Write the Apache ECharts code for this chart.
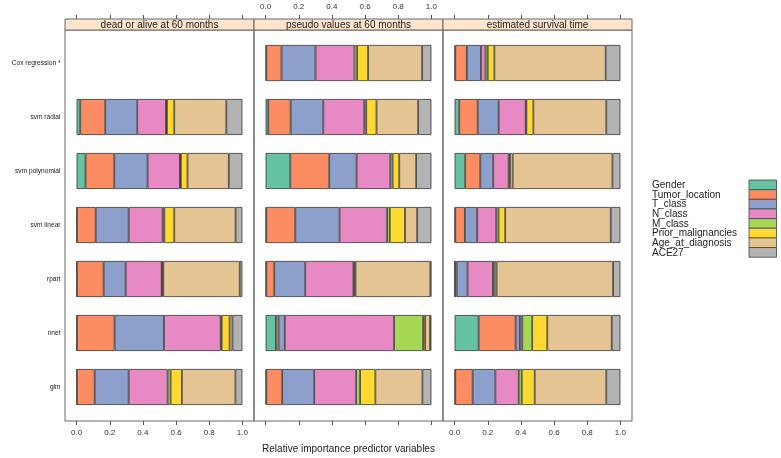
<!DOCTYPE html>
<html>
<head>
<meta charset="utf-8">
<script src="https://cdn.jsdelivr.net/npm/echarts@6/dist/echarts.min.js"></script>
<style>
html,body{margin:0;padding:0;background:#fff;}
#chart{width:781px;height:458px;}
</style>
</head>
<body>
<div id="chart"></div>
<script>
// Categories (top to bottom)
const methods = ['Cox regression *', 'svm radial', 'svm polynomial', 'svm linear', 'rpart', 'nnet', 'glm'];
// Predictor variables (stack order)
const variables = ['Gender', 'Tumor_location', 'T_class', 'N_class', 'M_class', 'Prior_malignancies', 'Age_at_diagnosis', 'ACE27'];
const colors = ['#66C2A5', '#FC8D62', '#8DA0CB', '#E78AC3', '#A6D854', '#FFD92F', '#E5C494', '#B3B3B3'];
const panelTitles = ['dead or alive at 60 months', 'pseudo values at 60 months', 'estimated survival time'];
const tickValues = [0, 0.2, 0.4, 0.6, 0.8, 1.0];

// Relative importance, rows = methods, columns = variables
const deadAlive = [
  [null, null, null, null, null, null, null, null],
  [0.022, 0.151, 0.193, 0.173, 0.006, 0.044, 0.314, 0.097],
  [0.054, 0.173, 0.201, 0.195, 0.006, 0.040, 0.249, 0.082],
  [0.002, 0.113, 0.199, 0.205, 0.010, 0.060, 0.370, 0.041],
  [0.002, 0.161, 0.133, 0.217, 0.004, 0.006, 0.461, 0.016],
  [0.002, 0.227, 0.298, 0.342, 0.006, 0.048, 0.017, 0.060],
  [0.002, 0.107, 0.205, 0.235, 0.018, 0.068, 0.323, 0.042]
];
const pseudo = [
  [0.004, 0.092, 0.205, 0.235, 0.016, 0.066, 0.326, 0.056],
  [0.016, 0.135, 0.197, 0.247, 0.012, 0.062, 0.251, 0.080],
  [0.149, 0.235, 0.165, 0.203, 0.014, 0.040, 0.102, 0.092],
  [0.004, 0.175, 0.267, 0.287, 0.016, 0.092, 0.073, 0.086],
  [0.004, 0.048, 0.187, 0.291, 0.006, 0.006, 0.452, 0.006],
  [0.062, 0.016, 0.038, 0.659, 0.175, 0.012, 0.030, 0.008],
  [0.004, 0.096, 0.193, 0.253, 0.024, 0.092, 0.284, 0.054]
];
const survTime = [
  [0.004, 0.070, 0.085, 0.027, 0.014, 0.040, 0.671, 0.089],
  [0.028, 0.111, 0.127, 0.163, 0.004, 0.042, 0.440, 0.085],
  [0.064, 0.091, 0.078, 0.093, 0.008, 0.016, 0.602, 0.048],
  [0.004, 0.058, 0.074, 0.115, 0.014, 0.040, 0.637, 0.058],
  [0.002, 0.010, 0.066, 0.153, 0.010, 0.012, 0.703, 0.044],
  [0.145, 0.223, 0.026, 0.014, 0.060, 0.091, 0.389, 0.052],
  [0.004, 0.105, 0.137, 0.141, 0.018, 0.078, 0.432, 0.085]
];
const panels = [deadAlive, pseudo, survTime];

// Layout
const FONT = 'Liberation Sans, Arial, Helvetica, sans-serif';
const panelLefts = [65, 254, 443];
const panelW = 189;
const gridTop = 36, gridH = 378;
const frameTop = 30, frameBottom = 421;
const stripTop = 19;
const xMin = -0.07, xMax = 1.07;

const grids = [], xAxes = [], yAxes = [], series = [], graphics = [];
const fmt = v => v.toFixed(1);

panels.forEach((rows, p) => {
  grids.push({left: panelLefts[p], top: gridTop, width: panelW, height: gridH, containLabel: false});
  // bottom axis
  xAxes.push({
    type: 'value', gridIndex: p, position: 'bottom', min: xMin, max: xMax,
    offset: frameBottom - (gridTop + gridH),
    axisLine: {show: false, onZero: false},
    splitLine: {show: false},
    axisTick: {show: true, length: 4, customValues: tickValues, lineStyle: {color: '#555'}},
    axisLabel: {show: p !== 1, customValues: tickValues, formatter: fmt, margin: 8,
      fontSize: 8, color: '#333', fontFamily: FONT}
  });
  // top axis
  xAxes.push({
    type: 'value', gridIndex: p, position: 'top', min: xMin, max: xMax,
    offset: gridTop - stripTop,
    axisLine: {show: false, onZero: false},
    splitLine: {show: false},
    axisTick: {show: true, length: 4, customValues: tickValues, lineStyle: {color: '#555'}},
    axisLabel: {show: p === 1, customValues: tickValues, formatter: fmt, margin: 8,
      fontSize: 8, color: '#333', fontFamily: FONT}
  });
  yAxes.push({
    type: 'category', gridIndex: p, data: methods, inverse: true, position: 'left',
    axisLine: {show: false, onZero: false},
    axisTick: {show: false},
    axisLabel: {show: p === 0, fontSize: 6.6, color: '#222', fontFamily: FONT, margin: 4.5}
  });
  variables.forEach((name, v) => {
    series.push({
      type: 'bar', name: name, xAxisIndex: p * 2, yAxisIndex: p, stack: 'panel' + p,
      barWidth: 36,
      data: rows.map(r => r[v] == null ? {value: '-', itemStyle: {borderWidth: 0, opacity: 0}} : r[v]),
      itemStyle: {color: colors[v], borderColor: '#333', borderWidth: 0.8},
      silent: true
    });
  });
  // frame
  graphics.push({type: 'rect', shape: {x: panelLefts[p], y: frameTop, width: panelW, height: frameBottom - frameTop},
    style: {fill: 'none', stroke: '#666', lineWidth: 1}, z: 100});
  // strip
  graphics.push({type: 'rect', shape: {x: panelLefts[p], y: stripTop, width: panelW, height: frameTop - stripTop},
    style: {fill: '#FFE5CC', stroke: '#666', lineWidth: 1}, z: 100});
  graphics.push({type: 'text', x: panelLefts[p] + panelW / 2, y: (stripTop + frameTop) / 2 + 0.5,
    style: {text: panelTitles[p], fill: '#222', font: '10px ' + FONT, textAlign: 'center', textVerticalAlign: 'middle'}, z: 101});
});

// x axis title
graphics.push({type: 'text', x: panelLefts[0] + panelW * 1.5, y: 449,
  style: {text: 'Relative importance predictor variables', fill: '#222', font: '10px ' + FONT,
    textAlign: 'center', textVerticalAlign: 'middle'}});

// legend (key: text left, boxes right)
const legTextX = 652, legBoxX = 749, legBoxW = 27.5, legTop = 180, legRow = 9.65;
variables.forEach((name, i) => {
  graphics.push({type: 'text', x: legTextX, y: legTop + legRow * i + legRow / 2 + 0.5,
    style: {text: name, fill: '#222', font: '10px ' + FONT, textAlign: 'left', textVerticalAlign: 'middle'}});
  graphics.push({type: 'rect', shape: {x: legBoxX, y: legTop + legRow * i, width: legBoxW, height: legRow},
    style: {fill: colors[i], stroke: '#444', lineWidth: 0.8}});
});

const chart = echarts.init(document.getElementById('chart'), null, {renderer: 'canvas'});
chart.setOption({
  animation: false,
  backgroundColor: '#fff',
  grid: grids,
  xAxis: xAxes,
  yAxis: yAxes,
  series: series,
  graphic: graphics
});
</script>
</body>
</html>
